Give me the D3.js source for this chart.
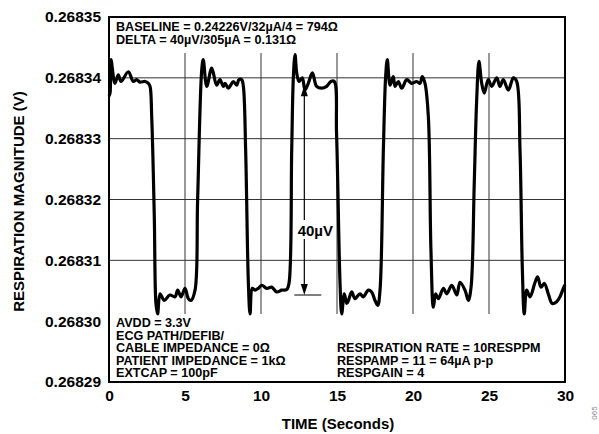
<!DOCTYPE html>
<html>
<head>
<meta charset="utf-8">
<script src="https://cdn.jsdelivr.net/npm/d3@7/dist/d3.min.js"></script>
<style>
  html, body { margin: 0; padding: 0; background: #fff; }
  svg text { font-family: "Liberation Sans", Arial, Helvetica, sans-serif; font-weight: bold; fill: #000; }
</style>
</head>
<body>
<svg id="chart" width="599" height="434"></svg>
<script>
// ---- data ----
const timeSec = [0.0,0.07,0.13,0.39,0.61,0.79,1.27,1.6,1.82,2.04,2.37,2.59,2.7,2.81,2.98,3.09,3.2,3.36,3.64,4.0,4.34,4.52,4.74,5.0,5.22,5.39,5.66,5.83,6.1,6.2,6.43,6.76,7.08,7.3,7.52,7.63,7.85,7.96,8.18,8.4,8.55,8.73,8.84,8.99,9.17,9.28,9.43,9.6,9.82,10.05,10.38,10.7,11.03,11.36,11.69,11.84,12.02,12.13,12.24,12.35,12.5,12.72,12.89,13.11,13.38,13.66,13.99,14.32,14.6,14.82,14.97,15.2,15.31,15.48,15.64,15.75,15.97,16.18,16.51,16.73,17.06,17.28,17.5,17.68,17.83,18.05,18.2,18.31,18.49,18.7,18.82,19.03,19.26,19.59,19.91,20.24,20.46,20.61,20.79,21.01,21.18,21.34,21.49,21.67,22.0,22.22,22.55,22.88,23.09,23.42,23.64,23.82,24.03,24.19,24.34,24.52,24.69,24.95,25.18,25.51,25.72,25.94,26.27,26.6,26.82,27.04,27.19,27.32,27.48,27.7,28.03,28.2,28.42,28.64,28.9,29.16,29.45,29.67,29.89,30.0];
const magnitudeV = [0.2683370,0.2683375,0.2683430,0.2683391,0.2683405,0.2683394,0.2683410,0.2683394,0.2683397,0.2683393,0.2683394,0.2683391,0.2683386,0.2683336,0.2683172,0.2683029,0.2683012,0.2683045,0.2683034,0.2683043,0.2683040,0.2683051,0.2683040,0.2683054,0.2683037,0.2683034,0.2683051,0.2683199,0.2683413,0.2683430,0.2683386,0.2683416,0.2683388,0.2683397,0.2683386,0.2683391,0.2683383,0.2683386,0.2683394,0.2683388,0.2683397,0.2683397,0.2683386,0.2683281,0.2683062,0.2683012,0.2683054,0.2683051,0.2683054,0.2683059,0.2683054,0.2683056,0.2683048,0.2683051,0.2683052,0.2683062,0.2683281,0.2683402,0.2683438,0.2683408,0.2683394,0.2683400,0.2683380,0.2683391,0.2683408,0.2683386,0.2683383,0.2683386,0.2683394,0.2683394,0.2683309,0.2683062,0.2683012,0.2683045,0.2683029,0.2683034,0.2683048,0.2683037,0.2683045,0.2683040,0.2683051,0.2683048,0.2683034,0.2683026,0.2683051,0.2683281,0.2683402,0.2683430,0.2683388,0.2683402,0.2683386,0.2683394,0.2683383,0.2683397,0.2683391,0.2683394,0.2683391,0.2683402,0.2683391,0.2683336,0.2683117,0.2683023,0.2683045,0.2683037,0.2683054,0.2683045,0.2683059,0.2683043,0.2683064,0.2683051,0.2683034,0.2683056,0.2683227,0.2683364,0.2683427,0.2683391,0.2683375,0.2683397,0.2683386,0.2683400,0.2683386,0.2683397,0.2683380,0.2683400,0.2683394,0.2683281,0.2683089,0.2683012,0.2683051,0.2683040,0.2683064,0.2683073,0.2683056,0.2683062,0.2683045,0.2683029,0.2683032,0.2683040,0.2683054,0.2683060];

const xTicks = [0, 5, 10, 15, 20, 25, 30];
const yTicks = [0.26829, 0.26830, 0.26831, 0.26832, 0.26833, 0.26834, 0.26835];
const xGrid = [5, 10, 15, 20, 25];
const yGrid = [0.26831, 0.26832, 0.26833, 0.26834];

const topNotes = ["BASELINE = 0.24226V/32\u00B5A/4 = 794\u03A9", "DELTA = 40\u00B5V/305\u00B5A = 0.131\u03A9"];
const leftNotes = ["AVDD = 3.3V", "ECG PATH/DEFIB/", "CABLE IMPEDANCE = 0\u03A9", "PATIENT IMPEDANCE = 1k\u03A9", "EXTCAP = 100pF"];
const rightNotes = ["RESPIRATION RATE = 10RESPPM", "RESPAMP = 11 = 64\u00B5A p-p", "RESPGAIN = 4"];
const deltaArrow = { t: 12.85, high: 0.2683388, low: 0.2683043, label: "40\u00B5V" };

// ---- layout ----
const L = 109, R = 565, T = 17, B = 382;
const svg = d3.select("#chart");
const x = d3.scaleLinear().domain([0, 30]).range([L, R]);
const y = d3.scaleLinear().domain([0.26829, 0.26835]).range([B, T]);

// gridlines
svg.append("g").selectAll("line").data(yGrid).join("line")
  .attr("x1", L).attr("x2", R).attr("y1", d => y(d)).attr("y2", d => y(d))
  .attr("stroke", "#333").attr("stroke-width", 1);
svg.append("g").selectAll("line").data(xGrid).join("line")
  .attr("x1", d => x(d)).attr("x2", d => x(d)).attr("y1", 53).attr("y2", 314)
  .attr("stroke", "#333").attr("stroke-width", 1);

// waveform
const pts = timeSec.map((t, i) => [t, magnitudeV[i]]);
svg.append("path").datum(pts)
  .attr("fill", "none").attr("stroke", "#000").attr("stroke-width", 3.2)
  .attr("stroke-linejoin", "round")
  .attr("d", d3.line().x(d => x(d[0])).y(d => y(d[1])).curve(d3.curveCatmullRom.alpha(0.5)));

// delta arrow
const ax = x(deltaArrow.t);
svg.append("line").attr("x1", ax).attr("x2", ax)
  .attr("y1", y(deltaArrow.high) + 8).attr("y2", y(deltaArrow.low) - 8)
  .attr("stroke", "#000").attr("stroke-width", 1.2);
svg.append("path").attr("fill", "#000")
  .attr("d", `M${ax},${y(deltaArrow.high)} l-3.5,11 l7,0 Z`);
svg.append("path").attr("fill", "#000")
  .attr("d", `M${ax},${y(deltaArrow.low)} l-3.5,-11 l7,0 Z`);
svg.append("line").attr("x1", ax - 10).attr("x2", ax + 17)
  .attr("y1", y(deltaArrow.low)).attr("y2", y(deltaArrow.low))
  .attr("stroke", "#000").attr("stroke-width", 1);
const labY = 230;
svg.append("rect").attr("x", ax - 9).attr("y", labY - 10).attr("width", 40).attr("height", 19).attr("fill", "#fff");
svg.append("text").attr("x", ax + 11).attr("y", labY + 5.5).attr("text-anchor", "middle")
  .style("font-size", "15px").text(deltaArrow.label);

// frame
svg.append("rect").attr("x", L).attr("y", T).attr("width", R - L).attr("height", B - T)
  .attr("fill", "none").attr("stroke", "#000").attr("stroke-width", 2);

// notes
svg.append("g").selectAll("text").data(topNotes).join("text")
  .attr("x", 116).attr("y", (d, i) => 30.5 + i * 13.5).style("font-size", "12.6px").text(d => d);
svg.append("g").selectAll("text").data(leftNotes).join("text")
  .attr("x", 116).attr("y", (d, i) => 327 + i * 12.5).style("font-size", "12.6px").text(d => d);
svg.append("g").selectAll("text").data(rightNotes).join("text")
  .attr("x", 337).attr("y", (d, i) => 352 + i * 12.5).style("font-size", "12.6px").text(d => d);

// axes
const yAxis = svg.append("g").attr("transform", `translate(${L},0)`)
  .call(d3.axisLeft(y).tickValues(yTicks).tickFormat(d3.format(".5f")).tickSize(0).tickPadding(8));
yAxis.select(".domain").remove();
yAxis.selectAll("text").style("font-size", "15.5px").style("font-family", "'Liberation Sans', Arial, sans-serif").style("font-weight", "bold");

const xAxis = svg.append("g").attr("transform", `translate(0,${B})`)
  .call(d3.axisBottom(x).tickValues(xTicks).tickFormat(d3.format("d")).tickSize(0).tickPadding(8));
xAxis.select(".domain").remove();
xAxis.selectAll("text").style("font-size", "15.5px").style("font-family", "'Liberation Sans', Arial, sans-serif").style("font-weight", "bold");

// axis titles
svg.append("text").attr("transform", `translate(24,${(T + B) / 2 + 2}) rotate(-90)`)
  .attr("text-anchor", "middle").style("font-size", "15px").text("RESPIRATION MAGNITUDE (V)");
svg.append("text").attr("x", 338).attr("y", 429)
  .attr("text-anchor", "middle").style("font-size", "15px").text("TIME (Seconds)");
svg.append("text").attr("transform", "translate(597,413) rotate(-90)")
  .attr("text-anchor", "middle").style("font-size", "8px").style("font-weight", "normal").style("fill", "#888").text("065");
</script>
</body>
</html>
